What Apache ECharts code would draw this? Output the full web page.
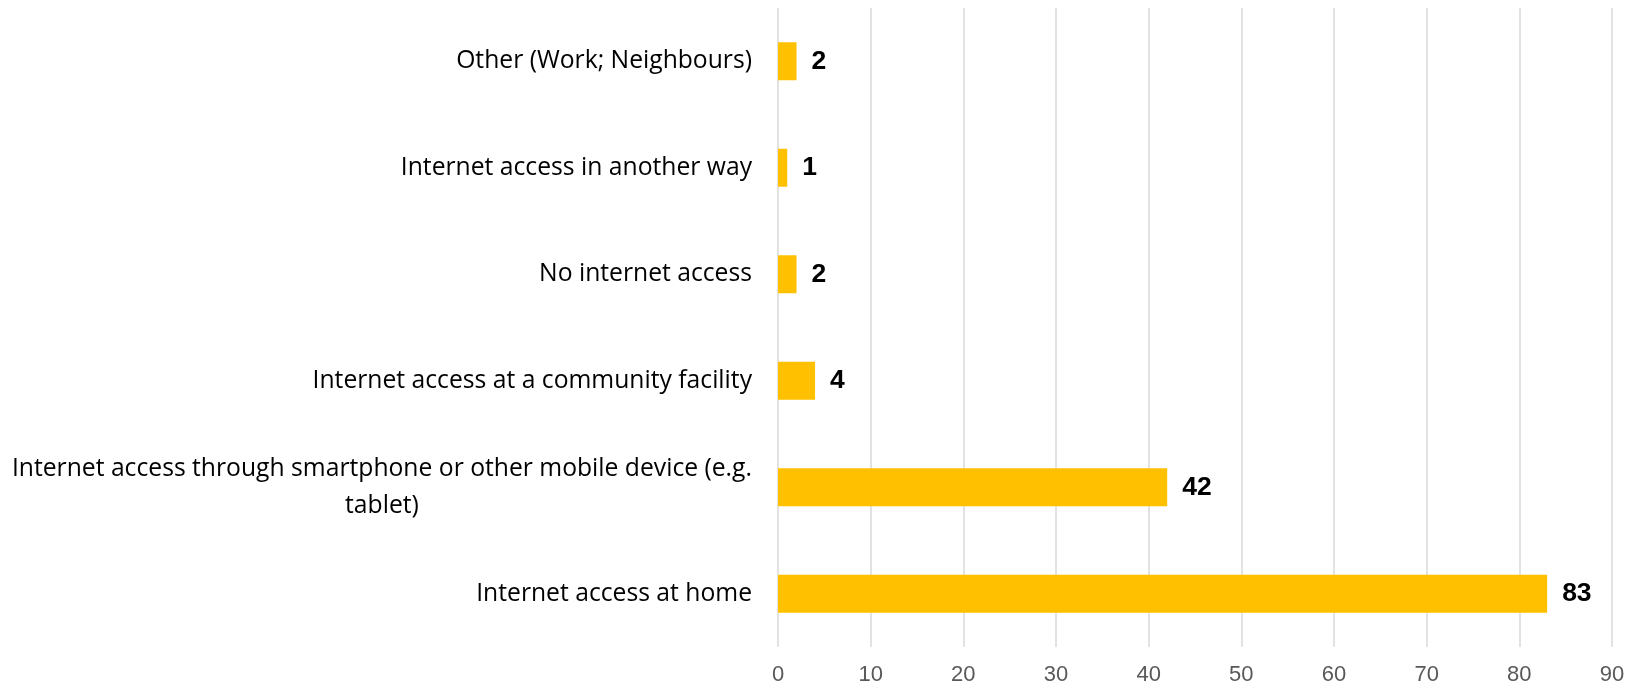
<!DOCTYPE html>
<html>
<head>
<meta charset="utf-8">
<script src="https://cdn.jsdelivr.net/npm/echarts@6/dist/echarts.min.js"></script>
<style>
html,body{margin:0;padding:0;background:#fff;}
#chart{width:1629px;height:687px;}
</style>
</head>
<body>
<div id="chart"></div>
<script>
const categories = [
  'Internet access at home',
  'Internet access through smartphone or other mobile device (e.g.\ntablet)',
  'Internet access at a community facility',
  'No internet access',
  'Internet access in another way',
  'Other (Work; Neighbours)'
];
const values = [83, 42, 4, 2, 1, 2];
const xTicks = { min: 0, max: 90, interval: 10 };

const chart = echarts.init(document.getElementById('chart'), null, { renderer: 'canvas' });
chart.setOption({
  animation: false,
  backgroundColor: '#ffffff',
  grid: { left: 778, right: 17, top: 8, bottom: 40, containLabel: false },
  xAxis: {
    type: 'value',
    min: xTicks.min, max: xTicks.max, interval: xTicks.interval,
    axisLine: { show: false },
    axisTick: { show: false },
    splitLine: { show: true, lineStyle: { color: '#d9d9d9', width: 1.5 } },
    axisLabel: { color: '#595959', fontSize: 22, fontFamily: 'Liberation Sans, Arial, sans-serif', margin: 17 }
  },
  yAxis: {
    type: 'category',
    data: categories,
    axisLine: { show: false },
    axisTick: { show: false },
    axisLabel: {
      margin: 26,
      formatter: function (v) {
        return v.split('\n').map(function (l) { return '{c|' + l + '}'; }).join('\n');
      },
      rich: {
        c: { fontSize: 24.7, fontFamily: 'Open Sans, sans-serif', color: '#000000', lineHeight: 37, align: 'center' }
      },
      fontSize: 24.7, fontFamily: 'Open Sans, sans-serif', color: '#000000', lineHeight: 37
    }
  },
  series: [{
    type: 'bar',
    data: values,
    barWidth: 38,
    itemStyle: { color: '#FFC000' },
    label: {
      show: true, position: 'right', distance: 15,
      color: '#000000', fontWeight: 'bold', fontSize: 26.5,
      fontFamily: 'Liberation Sans, Arial, sans-serif'
    }
  }]
});
</script>
</body>
</html>
